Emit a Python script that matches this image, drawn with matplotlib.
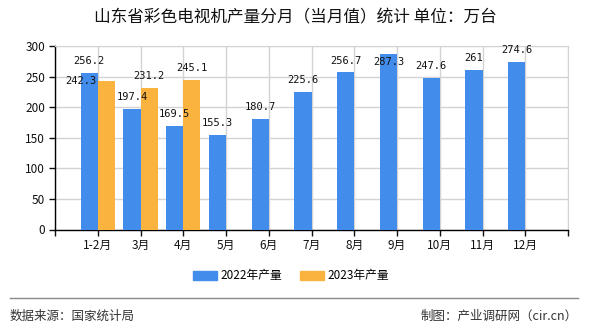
import matplotlib
matplotlib.use("Agg")
import matplotlib.pyplot as plt
from matplotlib.lines import Line2D
from matplotlib.patches import Patch
import numpy as np

plt.rcParams['font.family'] = ['Noto Sans CJK SC', 'DejaVu Sans']

categories = ['1-2月', '3月', '4月', '5月', '6月', '7月', '8月', '9月', '10月', '11月', '12月']
values_2022 = [256.2, 197.4, 169.5, 155.3, 180.7, 225.6, 256.7, 287.3, 247.6, 261, 274.6]
values_2023 = [242.3, 231.2, 245.1]
labels_2022 = ['256.2', '197.4', '169.5', '155.3', '180.7', '225.6', '256.7', '287.3', '247.6', '261', '274.6']
labels_2023 = ['242.3', '231.2', '245.1']
series_names = ['2022年产量', '2023年产量']
yticks = [0, 50, 100, 150, 200, 250, 300]

blue = '#428CEC'
orange = '#FBB340'

fig = plt.figure(figsize=(5.9, 3.3), dpi=100)
ax = fig.add_axes([55/590, 1-229.5/330, 513/590, (229.5-46)/330])

x = np.arange(len(categories))
x23 = np.arange(len(values_2023))
w = 0.4
ax.bar(x - w/2, values_2022, width=w, color=blue, zorder=3)
ax.bar(x23 + w/2, values_2023, width=w, color=orange, zorder=3)

mono = 'DejaVu Sans Mono'
for xi, v, t in zip(x, values_2022, labels_2022):
    if v > 280:
        ax.annotate(t, (xi - w/2, v), xytext=(0, -6), textcoords='offset points',
                    ha='center', va='center', fontsize=7.5, family=mono, color='#111', zorder=5)
    else:
        ax.annotate(t, (xi - w/2, v), xytext=(0, 5), textcoords='offset points',
                    ha='center', va='bottom', fontsize=7.5, family=mono, color='#111', zorder=5)
for i, (xi, v, t) in enumerate(zip(x23, values_2023, labels_2023)):
    if i == 0:
        ax.annotate(t, (xi + w/2, v), xytext=(-18, 0), textcoords='offset points',
                    ha='center', va='center', fontsize=7.5, family=mono, color='#111', zorder=5)
    else:
        ax.annotate(t, (xi + w/2, v), xytext=(0, 5), textcoords='offset points',
                    ha='center', va='bottom', fontsize=7.5, family=mono, color='#111', zorder=5)

ax.set_xlim(-1, len(categories))
ax.set_ylim(0, 300)
ticks = np.arange(-1, len(categories) + 1)
ax.set_xticks(ticks)
ax.set_xticklabels([''] + categories + [''])
ax.set_yticks(yticks)
ax.tick_params(axis='x', length=4, width=1, pad=3, labelsize=8.5, colors='#111')
ax.tick_params(axis='y', length=4, width=1, pad=3, labelsize=8.5, colors='#111')
ax.grid(True, color='#d3d3d3', linewidth=1, zorder=0)
ax.set_axisbelow(True)
for s in ['top', 'right']:
    ax.spines[s].set_color('#d3d3d3')
for s in ['left', 'bottom']:
    ax.spines[s].set_color('#000')
    ax.spines[s].set_linewidth(1)

fig.text(0.5, 1-18/330, '山东省彩色电视机产量分月（当月值）统计 单位：万台',
         ha='center', va='center', fontsize=12, color='#111')

handles = [Patch(color=blue), Patch(color=orange)]
fig.legend(handles, series_names, loc='center', bbox_to_anchor=(291/590, 1-276/330),
           ncol=2, frameon=False, fontsize=8.5, handlelength=2.0, handleheight=0.8,
           handletextpad=0.3, columnspacing=1.5)

fig.add_artist(Line2D([10/590, 578/590], [1-298/330, 1-298/330], color='#888', lw=1,
                      transform=fig.transFigure))
fig.text(10/590, 1-316/330, '数据来源：国家统计局', ha='left', va='center', fontsize=9, color='#333')
fig.text(578/590, 1-316/330, '制图：产业调研网（cir.cn）', ha='right', va='center', fontsize=9, color='#333')

fig.savefig('out.png', dpi=100)
